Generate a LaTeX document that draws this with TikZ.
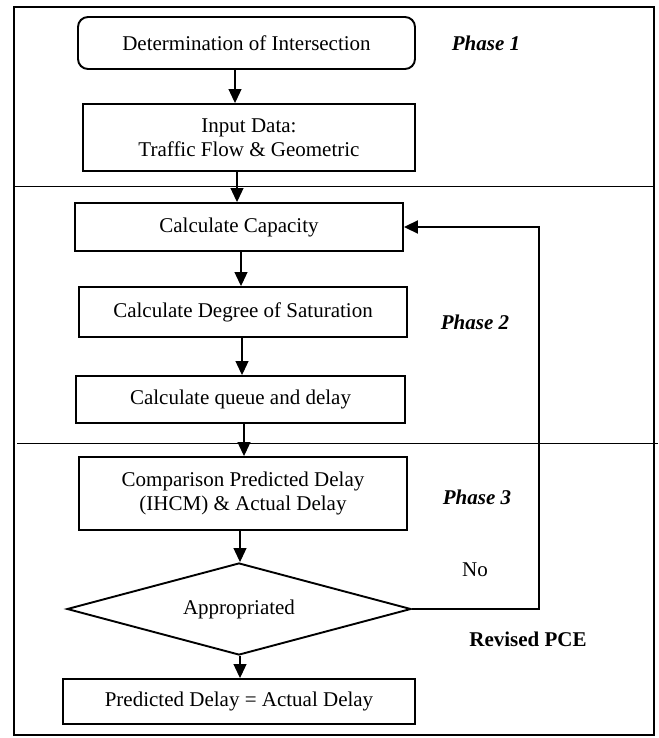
\documentclass[tikz,border=0pt]{standalone}
\usepackage{fontspec}
\setmainfont{Liberation Serif}
\usetikzlibrary{arrows.meta,shapes.geometric}
\begin{document}
\begin{tikzpicture}[x=1pt,y=-1pt,
  every node/.style={font=\fontsize{21}{24}\selectfont},
  box/.style={draw,line width=1.9pt,inner sep=0pt,align=center},
  arr/.style={line width=1.1pt,-{Triangle[length=14pt,width=13pt]}},
  phase/.style={font=\fontsize{21}{24}\selectfont\bfseries\itshape},
  divider/.style={line width=0.9pt}]
\useasboundingbox (0,0) rectangle (658,738);
\fill[white] (0,0) rectangle (658,738);
% frame and dividers
\draw[line width=1.8pt] (14,7) rectangle (654,735);
\draw[divider] (14,186) -- (654,186);
\draw[divider] (17,443) -- (658,443);
% nodes
\node[box,rounded corners=10pt,minimum width=337pt,minimum height=52pt] (det) at (246.5,43) {Determination of Intersection};
\node[box,minimum width=332pt,minimum height=67pt] (inp) at (249,137.5) {Input Data:\\Traffic Flow \& Geometric};
\node[box,minimum width=328pt,minimum height=48pt] (cap) at (239,227) {Calculate Capacity};
\node[box,minimum width=328pt,minimum height=50pt] (sat) at (243,312) {Calculate Degree of Saturation};
\node[box,minimum width=329pt,minimum height=47pt] (que) at (240.5,399.5) {Calculate queue and delay};
\node[box,minimum width=328pt,minimum height=73pt] (cmp) at (243,493.5) {Comparison Predicted Delay\\(IHCM) \& Actual Delay};
\node[box,diamond,aspect=3.74,minimum width=344pt,minimum height=92pt] (dia) at (239,609) {Appropriated};
\node[box,minimum width=352pt,minimum height=45pt] (fin) at (239,701.5) {Predicted Delay = Actual Delay};
% labels
\node[phase] (p1) at (486,43) {Phase 1};
\node[phase] (p2) at (475,322) {Phase 2};
\node[phase] (p3) at (477,497) {Phase 3};
\node (no) at (475,570) {No};
\node[font=\fontsize{21}{24}\selectfont\bfseries] (rev) at (528,639) {Revised PCE};
% connectors
\draw[arr] (det.south -| 235,0) -- (inp.north -| 235,0);
\draw[arr] (inp.south -| 237,0) -- (cap.north -| 237,0);
\draw[arr] (cap.south -| 241,0) -- (sat.north -| 241,0);
\draw[arr] (sat.south -| 242,0) -- (que.north -| 242,0);
\draw[arr] (que.south -| 244,0) -- (cmp.north -| 244,0);
\draw[arr] (cmp.south -| 240,0) -- (dia.north -| 240,0);
\draw[arr] (dia.south -| 240,0) -- (fin.north -| 240,0);
\coordinate (fb) at (539,609);
\draw[line width=1.9pt,-{Triangle[length=14pt,width=13pt]}] (dia.east) -- (fb) |- (cap.east);
\end{tikzpicture}
\end{document}
